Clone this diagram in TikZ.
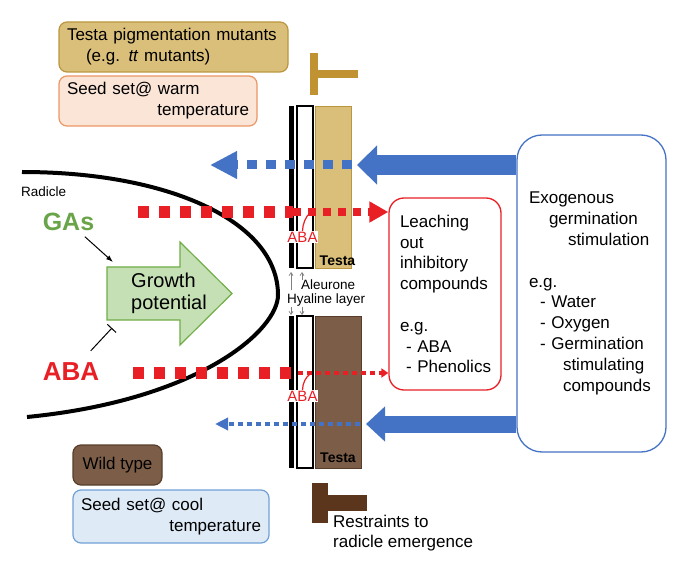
\documentclass[tikz,border=0pt]{standalone}
\usepackage{fontspec}
\setmainfont{Liberation Sans}
\usetikzlibrary{arrows.meta,calc}

\definecolor{testaTan}{RGB}{218,191,122}
\definecolor{testaTanLine}{RGB}{186,150,62}
\definecolor{testaBrown}{RGB}{124,94,72}
\definecolor{testaBrownLine}{RGB}{88,62,42}
\definecolor{barGold}{RGB}{192,146,50}
\definecolor{barBrown}{RGB}{92,54,28}
\definecolor{warmFill}{RGB}{251,229,215}
\definecolor{warmLine}{RGB}{236,150,100}
\definecolor{coolFill}{RGB}{222,235,247}
\definecolor{coolLine}{RGB}{112,160,214}
\definecolor{exoBlue}{RGB}{68,114,196}
\definecolor{abaRed}{RGB}{232,32,38}
\definecolor{gaGreen}{RGB}{106,164,72}
\definecolor{growthFill}{RGB}{197,224,180}
\definecolor{growthLine}{RGB}{112,173,71}

\begin{document}
\begin{tikzpicture}[
      x=1pt, y=-1pt,
      >={Latex[length=7pt,width=5pt]},
      legendBox/.style={
        draw, rounded corners=8pt, line width=1.2pt, align=left,
        font=\fontsize{17}{20.8}\selectfont, inner xsep=8pt, inner ysep=0pt
      },
      infoBox/.style={
        draw, fill=white, line width=1.3pt, align=left,
        font=\fontsize{17}{20.8}\selectfont, inner ysep=0pt
      },
      plainText/.style={font=\fontsize{17}{20}\selectfont, inner sep=0pt, align=left},
      smallText/.style={font=\fontsize{13.5}{15}\selectfont, inner sep=0pt},
      testaLabel/.style={font=\fontsize{14}{16}\selectfont\bfseries, inner sep=0pt},
      coatAba/.style={font=\fontsize{15}{16}\selectfont, text=abaRed, fill=white, inner sep=0.6pt},
      bigFlow/.style={exoBlue, line width=20pt, -{Triangle[length=20pt,width=38pt]}},
      blueDash/.style={exoBlue, line width=9pt, dash pattern=on 10pt off 9pt},
      blueDot/.style={exoBlue, line width=4.5pt, dash pattern=on 5pt off 4pt},
      redDash/.style={abaRed, line width=12pt, dash pattern=on 11pt off 10pt},
      redDashThin/.style={abaRed, line width=8pt, dash pattern=on 8pt off 7pt},
      redDot/.style={abaRed, line width=4pt, dash pattern=on 5pt off 4pt},
      layerTick/.style={gray, line width=0.7pt, -{Straight Barb[length=3pt,width=4pt]}},
      hook/.style={abaRed, line width=1.2pt}
    ]
      \useasboundingbox (0,0) rectangle (689,575);

      % ---------- Legend boxes ----------
      \node[legendBox, fill=testaTan, draw=testaTanLine, minimum width=229pt,
            minimum height=50pt, text width=213pt] (pigment) at (173.5,47)
            {Testa pigmentation mutants\\\hspace*{19pt}(e.g. \textit{tt} mutants)};
      \node[legendBox, fill=warmFill, draw=warmLine, minimum width=198pt,
            minimum height=50pt, text width=182pt] (warm) at (158,101)
            {Seed set@ warm\\\makebox[182pt][r]{temperature}};
      \node[legendBox, fill=testaBrown, draw=testaBrownLine, minimum width=89pt,
            minimum height=40pt, align=center] (wild) at (117.5,465) {Wild type};
      \node[legendBox, fill=coolFill, draw=coolLine, minimum width=196pt,
            minimum height=53pt, text width=180pt] (cool) at (171,516.5)
            {Seed set@ cool\\\makebox[180pt][r]{temperature}};

      % ---------- Restraint bars ----------
      \fill[barGold] (310,53) rectangle (318,95);
      \fill[barGold] (318,70) rectangle (358,78);
      \fill[barBrown] (312,483) rectangle (328,523);
      \fill[barBrown] (328,495) rectangle (367,511);
      \node[plainText, anchor=west] (restraint) at (333,533)
            {Restraints to\\radicle emergence};

      % ---------- Seed coat layers ----------
      \draw[line width=5pt] (291.5,106) -- (291.5,268);
      \draw[line width=1.2pt, fill=white] (297,106) rectangle (313,268);
      \draw[testaTanLine, fill=testaTan] (315,106) rectangle (351,268);
      \node[testaLabel] (testaTop) at (337.5,261) {Testa};

      \draw[line width=5pt] (291.5,316) -- (291.5,468);
      \draw[line width=1.2pt, fill=white] (297,316) rectangle (313,468);
      \draw[testaBrownLine, fill=testaBrown] (315,316) rectangle (361,468);
      \node[testaLabel] (testaBot) at (338,458) {Testa};

      \node[smallText, anchor=west] (aleurone) at (301,285) {Aleurone};
      \node[smallText, anchor=west] (hyaline) at (287,300) {Hyaline layer};
      \draw[layerTick] (291,290) -- (291,272);
      \draw[layerTick] (302,280) -- (302,272);
      \draw[layerTick] (291,307) -- (291,315);
      \draw[layerTick] (302,307) -- (302,315);

      % ---------- Embryo ----------
      \draw[line width=4pt] (22,172) .. controls (170,172) and (278,222) .. (278,295)
            .. controls (278,330) and (200,400) .. (27,417);
      \node[smallText, anchor=west] (radicle) at (21,192) {Radicle};

      \draw[growthLine, fill=growthFill, line width=1.2pt]
            (107,267) -- (180,267) -- (180,242) -- (232,293.5)
            -- (180,345) -- (180,320) -- (107,320) -- cycle;
      \node[font=\fontsize{20}{22}\selectfont, inner sep=0pt, align=left, anchor=west]
            (growth) at (131,293) {Growth\\potential};

      \node[font=\fontsize{25}{28}\selectfont\bfseries, text=gaGreen, inner sep=1pt]
            (gas) at (68.5,222) {GAs};
      \node[font=\fontsize{26}{28}\selectfont\bfseries, text=abaRed, inner sep=1pt]
            (aba) at (71,372) {ABA};
      \coordinate (growthIn) at (113,262);
      \coordinate (growthStop) at (112,328);
      \draw[->, line width=1pt, shorten <=22pt] (gas.center) -- (growthIn);
      \draw[-{Bar[width=12pt]}, line width=1pt, shorten <=29pt] (aba.center) -- (growthStop);

      % ---------- Boxes on the right ----------
      \node[infoBox, draw=abaRed, rounded corners=15pt, minimum width=112pt,
            minimum height=192pt, text width=90pt, inner xsep=11pt] (leach) at (445,294)
            {Leaching\\out\\inhibitory\\compounds\\[20.8pt]e.g.\\
             \mbox{\hspace*{6pt}-~ABA}\\\mbox{\hspace*{6pt}-~Phenolics}};
      \node[infoBox, draw=exoBlue, rounded corners=25pt, minimum width=149pt,
            minimum height=317pt, text width=125pt, inner xsep=12pt] (exo) at (591.5,293.5)
            {Exogenous\\\hspace*{20pt}germination\\\hspace*{39pt}stimulation\\[20.8pt]
             e.g.\\\hspace*{11pt}-~Water\\\hspace*{11pt}-~Oxygen\\\mbox{\hspace*{11pt}-~Germination}\\
             \hspace*{34pt}stimulating\\\hspace*{34pt}compounds};

      % ---------- Flows ----------
      \coordinate (blueTopTip) at (357,165);
      \coordinate (blueTopStart) at (352,165);
      \coordinate (blueTopEnd) at (210,165);
      \draw[blueDash, -{Triangle[length=27pt,width=26pt]}] (blueTopStart) -- (blueTopEnd);
      \draw[bigFlow] (exo.west |- blueTopTip) -- (blueTopTip);

      \coordinate (blueBotTip) at (366,424);
      \coordinate (blueBotStart) at (360,424);
      \coordinate (blueBotEnd) at (215,424);
      \draw[blueDot, -{Triangle[length=13pt,width=12pt]}] (blueBotStart) -- (blueBotEnd);
      \draw[exoBlue, line width=17pt, -{Triangle[length=19pt,width=34pt]}]
            (exo.west |- blueBotTip) -- (blueBotTip);

      \coordinate (redTopStart) at (138,212);
      \coordinate (redTopMid) at (293,212);
      \draw[redDash] (redTopStart) -- (redTopMid);
      \draw[redDashThin, -{Triangle[length=19pt,width=20pt]}] (redTopMid) -- (leach.west |- redTopMid);

      \coordinate (redBotStart) at (133,373);
      \coordinate (redBotMid) at (298,373);
      \draw[redDash] (redBotStart) -- (redBotMid);
      \draw[redDot, -{Triangle[length=7pt,width=9pt]}] (redBotMid) -- (leach.west |- redBotMid);

      % ---------- ABA in the seed coat ----------
      \node[coatAba] (abaCoatTop) at (302.5,237) {ABA};
      \coordinate (hookTop) at (310,213);
      \draw[hook] (abaCoatTop.north) .. controls +(0,-7) and +(-4,3) .. (hookTop);
      \node[coatAba] (abaCoatBot) at (302.5,396) {ABA};
      \coordinate (hookBot) at (310,374);
      \draw[hook] (abaCoatBot.north) .. controls +(0,-7) and +(-4,3) .. (hookBot);

    \end{tikzpicture}
\end{document}
